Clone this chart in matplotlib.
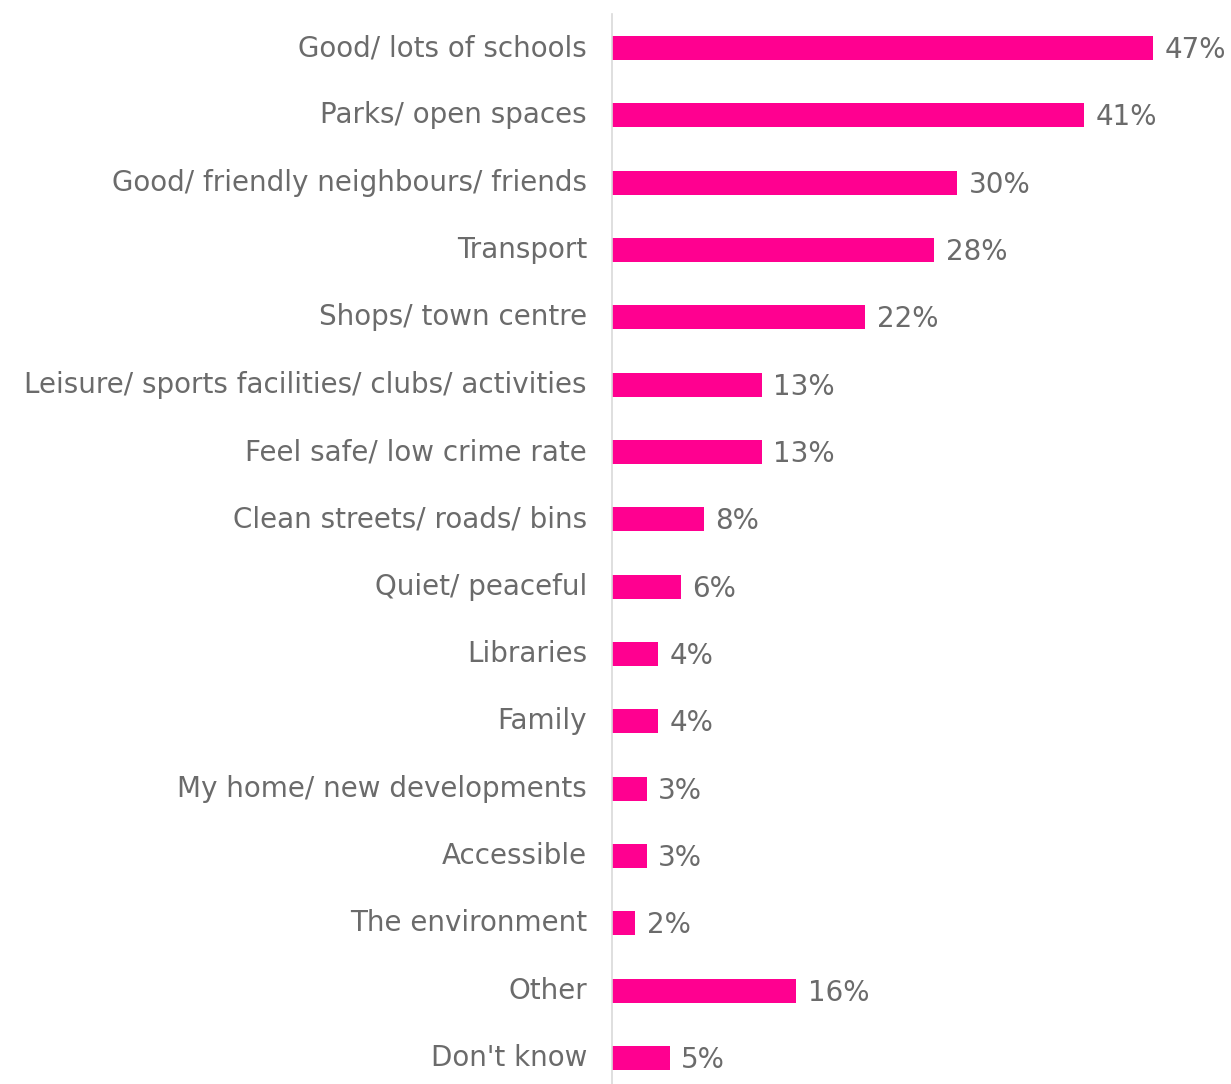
import matplotlib.pyplot as plt

# Things people like about the area (% of respondents)
categories = [
    "Good/ lots of schools",
    "Parks/ open spaces",
    "Good/ friendly neighbours/ friends",
    "Transport",
    "Shops/ town centre",
    "Leisure/ sports facilities/ clubs/ activities",
    "Feel safe/ low crime rate",
    "Clean streets/ roads/ bins",
    "Quiet/ peaceful",
    "Libraries",
    "Family",
    "My home/ new developments",
    "Accessible",
    "The environment",
    "Other",
    "Don't know",
]
values = [47, 41, 30, 28, 22, 13, 13, 8, 6, 4, 4, 3, 3, 2, 16, 5]

bar_color = "#FF0090"
text_color = "#6B6B6B"

plt.rcParams['font.family'] = ['DejaVu Sans']

fig = plt.figure(figsize=(12.31, 10.84), dpi=100)
ax = fig.add_axes([612 / 1231, 0, 619 / 1231, 1070 / 1084])

ypos = list(range(len(categories)))
ax.barh(ypos, values, height=0.36, color=bar_color)

for y, v in zip(ypos, values):
    ax.text(v + 1.0, y + 0.03, f"{v}%", va="center", ha="left",
            fontsize=20, color=text_color)

ax.set_yticks(ypos)
ax.set_yticklabels(categories, fontsize=20, color=text_color)
ax.tick_params(axis="y", length=0, pad=18)
for lbl in ax.get_yticklabels():
    lbl.set_va("center")
ax.set_xticks([])
ax.set_xlim(0, 53.8)
ax.set_ylim(len(categories) - 1 + 0.386, -0.505)

for side in ["top", "right", "bottom"]:
    ax.spines[side].set_visible(False)
ax.spines["left"].set_color("#D9D9D9")
ax.spines["left"].set_linewidth(1.2)

fig.savefig("out.png", dpi=100)
